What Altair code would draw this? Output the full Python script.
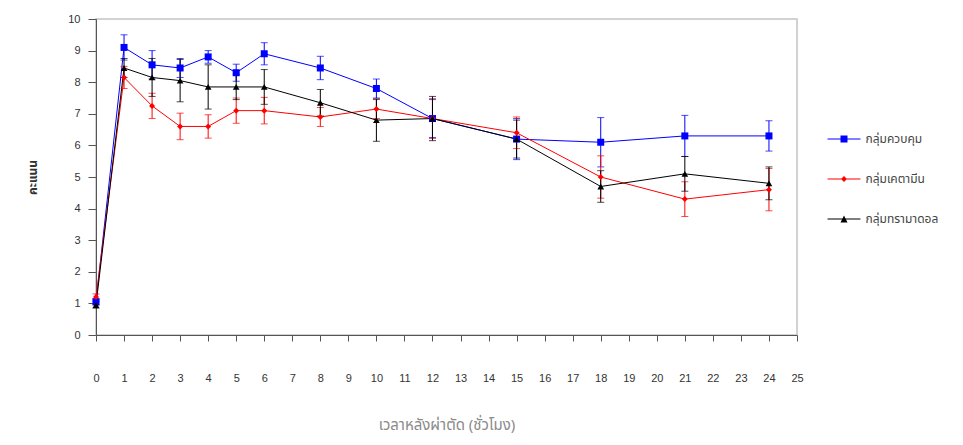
import altair as alt
import pandas as pd

# ---- data ----
hours = [0, 1, 2, 3, 4, 5, 6, 8, 10, 12, 15, 18, 21, 24]
groups = ["กลุ่มควบคุม", "กลุ่มเคตามีน", "กลุ่มทรามาดอล"]

control = [1.05, 9.1, 8.55, 8.45, 8.8, 8.3, 8.9, 8.45, 7.8, 6.85, 6.2, 6.1, 6.3, 6.3]
ketamine = [1.2, 8.15, 7.25, 6.6, 6.6, 7.1, 7.1, 6.9, 7.15, 6.85, 6.4, 5.0, 4.3, 4.6]
tramadol = [0.95, 8.45, 8.15, 8.05, 7.85, 7.85, 7.85, 7.35, 6.8, 6.85, 6.2, 4.7, 5.1, 4.8]

control_err = [0.1, 0.4, 0.45, 0.3, 0.2, 0.27, 0.35, 0.37, 0.3, 0.6, 0.65, 0.78, 0.65, 0.48]
ketamine_err = [0.1, 0.35, 0.4, 0.42, 0.37, 0.4, 0.42, 0.3, 0.3, 0.63, 0.5, 0.67, 0.55, 0.67]
tramadol_err = [0.1, 0.3, 0.6, 0.67, 0.7, 0.4, 0.55, 0.42, 0.67, 0.7, 0.6, 0.5, 0.55, 0.52]

x_ticks = list(range(0, 26))
y_ticks = list(range(0, 11))

colors = ["#0000ff", "#ff0000", "#000000"]
plot_shapes = ["square", "diamond", "triangle-up"]
plot_sizes = [49, 36, 45]
legend_paths = [
    "M-4.7,-0.15H4.7V0.15H-4.7Z M-1,-1H1V1H-1Z",
    "M-4.7,-0.15H4.7V0.15H-4.7Z M0,-0.85L0.85,0L0,0.85L-0.85,0Z",
    "M-4.7,-0.15H4.7V0.15H-4.7Z M0,-1L1,1H-1Z",
]

rows = []
for g, vals, errs in zip(groups, [control, ketamine, tramadol],
                         [control_err, ketamine_err, tramadol_err]):
    for t, v, e in zip(hours, vals, errs):
        rows.append({"group": g, "t": t, "v": v, "lo": v - e, "hi": v + e})
df = pd.DataFrame(rows)

thai = "Noto Sans Thai, Noto Sans, Liberation Sans, sans-serif"
latin = "Liberation Sans, Arial, sans-serif"

x_scale = alt.Scale(domain=[0, 25], nice=False)
y_scale = alt.Scale(domain=[0, 10], nice=False)
x_axis = alt.Axis(values=x_ticks, format="d", grid=False, labelOverlap=False,
                  title="เวลาหลังผ่าตัด (ชั่วโมง)",
                  titleFont=thai, titleFontSize=15,
                  titleFontWeight="normal", titleColor="#8a8a8a",
                  titlePadding=34, labelPadding=31, tickSize=6,
                  labelFlush=False)
y_axis = alt.Axis(values=y_ticks, grid=False, labelOverlap=False, title="คะแนน",
                  titleFont=thai, titleFontSize=12, titleFontWeight="bold",
                  titleColor="#333333", titlePadding=28, labelPadding=8,
                  tickSize=8)


def X(field):
    return alt.X(field, scale=x_scale, axis=x_axis)


def Y(field):
    return alt.Y(field, scale=y_scale, axis=y_axis)


base = alt.Chart(df)

layers = []
for g, c in zip(groups, colors):
    layers.append(
        base.transform_filter(alt.datum.group == g)
        .mark_line(strokeWidth=1, color=c)
        .encode(x=X("t:Q"), y=Y("v:Q"), order="t:Q")
    )
for g, c in zip(groups, colors):
    layers.append(
        base.transform_filter(alt.datum.group == g)
        .mark_errorbar(ticks={"size": 7}, thickness=1, color=c)
        .encode(x=X("t:Q"), y=Y("lo:Q"), y2="hi:Q")
    )
for g, c, s, sz in zip(groups, colors, plot_shapes, plot_sizes):
    layers.append(
        base.transform_filter(alt.datum.group == g)
        .mark_point(filled=True, shape=s, size=sz, color=c, opacity=1)
        .encode(x=X("t:Q"), y=Y("v:Q"))
    )

legend_def = alt.Legend(title=None, orient="none", legendX=742, legendY=114)
legend_layer = base.transform_filter("datum.t < 0").mark_point(
    filled=True, opacity=1
).encode(
    x=X("t:Q"),
    y=Y("v:Q"),
    color=alt.Color("group:N", scale=alt.Scale(domain=groups, range=colors),
                    legend=legend_def),
    shape=alt.Shape("group:N", scale=alt.Scale(domain=groups, range=legend_paths),
                    legend=legend_def),
)
layers.append(legend_layer)

chart = alt.layer(*layers).properties(
    width=701,
    height=316,
    autosize=alt.AutoSizeParams(type="none"),
    padding={"left": 88, "top": 11, "right": 158, "bottom": 102},
).configure_view(
    stroke="#c4c4c4", strokeWidth=1.5
).configure_axis(
    labelFont=latin, labelFontSize=11, labelColor="#333333",
    domainColor="#555555", tickColor="#555555", domainWidth=1, tickWidth=1,
).configure_legend(
    symbolSize=49, symbolStrokeWidth=0, labelOffset=15.5, rowPadding=28,
    labelFont=thai, labelFontSize=12, labelColor="#444444", padding=0,
    labelLimit=300,
)

chart.save("out.html", embed_options={"renderer": "svg", "actions": False})
